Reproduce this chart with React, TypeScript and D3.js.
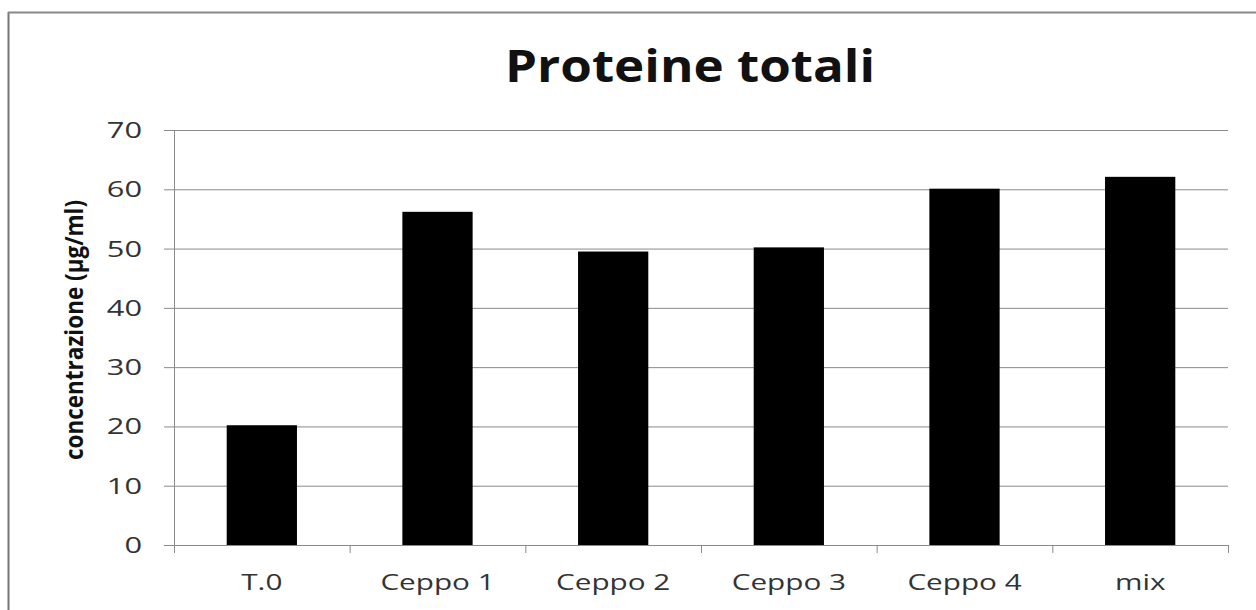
import React from "react";
import * as d3 from "d3";

const categories = ["T.0", "Ceppo 1", "Ceppo 2", "Ceppo 3", "Ceppo 4", "mix"];
const values = [20.2, 56.2, 49.5, 50.2, 60.1, 62.1];
const yTicks = [0, 10, 20, 30, 40, 50, 60, 70];
const title = "Proteine totali";
const yLabel = "concentrazione (µg/ml)";

export default function App() {
  const W = 1256, H = 610;
  const left = 174, right = 1228, top = 130, bottom = 545;
  const x = d3.scaleBand<string>().domain(categories).range([left, right]).paddingInner(0.6).paddingOuter(0.3);
  const xb = d3.scaleBand<string>().domain(categories).range([left, right]);
  const y = d3.scaleLinear().domain([0, 70]).range([bottom, top]);
  const font = "Open Sans, sans-serif";
  const grid = "#8a8a8a";
  return (
    <svg width={W} height={H} style={{ position: "absolute", left: 0, top: 0, background: "#fff" }}>
      <rect x={0} y={0} width={W} height={H} fill="#fff" />
      <line x1={8.5} y1={12} x2={8.5} y2={H} stroke="#777" strokeWidth={2} />
      <line x1={8} y1={12.5} x2={W} y2={12.5} stroke="#888" strokeWidth={2} />
      <text x={690} y={82} textAnchor="middle" fontFamily={font} fontWeight="bold" fontSize={44} textLength={370} lengthAdjust="spacingAndGlyphs" fill="#111">{title}</text>
      {yTicks.map((t) => (
        <g key={t}>
          {t > 0 && <line x1={left} x2={right} y1={y(t) + 0.5} y2={y(t) + 0.5} stroke={grid} strokeWidth={1} />}
          <line x1={left - 10} x2={left} y1={y(t) + 0.5} y2={y(t) + 0.5} stroke={grid} strokeWidth={1} />
          <text transform={`translate(142,${y(t) + 8}) scale(1.4,1)`} textAnchor="end" fontFamily={font} fontSize={22} fill="#333">{t}</text>
        </g>
      ))}
      {categories.map((c, i) => (
        <rect key={c} x={x(c)} y={y(values[i])} width={x.bandwidth()} height={bottom - y(values[i])} fill="#000" />
      ))}
      <line x1={left + 0.5} x2={left + 0.5} y1={top} y2={bottom + 8} stroke={grid} strokeWidth={1} />
      <line x1={left} x2={right} y1={bottom + 0.5} y2={bottom + 0.5} stroke={grid} strokeWidth={1} />
      {categories.map((c) => (
        <line key={"t" + c} x1={(xb(c) as number) + xb.bandwidth() + 0.5} x2={(xb(c) as number) + xb.bandwidth() + 0.5} y1={bottom} y2={bottom + 8} stroke={grid} strokeWidth={1} />
      ))}
      {categories.map((c) => (
        <text key={"l" + c} transform={`translate(${(xb(c) as number) + xb.bandwidth() / 2},590) scale(1.35,1)`} textAnchor="middle" fontFamily={font} fontSize={22} fill="#333">{c}</text>
      ))}
      <text transform="translate(83,330) rotate(-90)" textAnchor="middle" fontFamily={font} fontWeight="bold" fontSize={25} textLength={260} lengthAdjust="spacingAndGlyphs" fill="#111">{yLabel}</text>
    </svg>
  );
}
